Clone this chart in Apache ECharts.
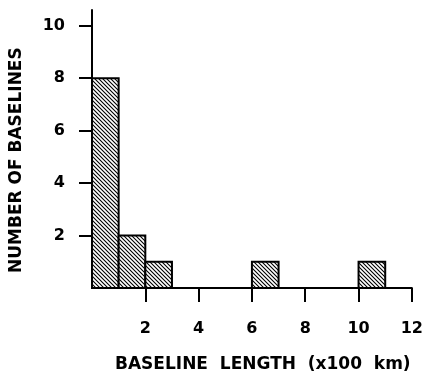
<!DOCTYPE html>
<html><head><meta charset="utf-8">
<script src="https://cdn.jsdelivr.net/npm/echarts@6/dist/echarts.min.js"></script>
<style>html,body{margin:0;padding:0;background:#fff}#c{width:426px;height:376px}</style>
</head><body><div id="c"></div>
<script>
// histogram bins: start, end (x100 km), count
const binStart = [0, 1, 2, 6, 10];
const binEnd   = [1, 2, 3, 7, 11];
const counts   = [8, 2, 1, 1, 1];
const xTicks = [2, 4, 6, 8, 10, 12];
const yTicks = [2, 4, 6, 8, 10];

function hatch() {
  const c = document.createElement('canvas');
  c.width = 4; c.height = 4;
  const g = c.getContext('2d');
  g.fillStyle = '#fff'; g.fillRect(0,0,4,4);
  g.strokeStyle = '#000'; g.lineWidth = 1.1;
  g.beginPath();
  g.moveTo(-1,-1); g.lineTo(5,5);
  g.moveTo(-1,3); g.lineTo(1,5);
  g.moveTo(3,-1); g.lineTo(5,1);
  g.stroke();
  return c;
}
const pattern = { image: hatch(), repeat: 'repeat' };

const data = binStart.map((s, i) => [s, binEnd[i], counts[i]]);
const font = '"DejaVu Sans", "Liberation Sans", sans-serif';
const chart = echarts.init(document.getElementById('c'));
chart.setOption({
  animation: false,
  grid: { left: 92, right: 11, top: 10, bottom: 88 },
  xAxis: {
    type: 'value', min: 0, max: 12,
    axisLine: { show: true, lineStyle: { color: '#000', width: 2 } },
    axisTick: { show: true, length: 14, customValues: xTicks, lineStyle: { color: '#000', width: 2 } },
    axisLabel: { customValues: xTicks, margin: 33, color: '#000', fontFamily: font, fontWeight: 'bold', fontSize: 16 },
    splitLine: { show: false }
  },
  yAxis: {
    type: 'value', min: 0, max: 10.6,
    axisLine: { show: true, lineStyle: { color: '#000', width: 2 } },
    axisTick: { show: true, length: 13, customValues: yTicks, lineStyle: { color: '#000', width: 2 } },
    axisLabel: { customValues: yTicks, margin: 27, color: '#000', fontFamily: font, fontWeight: 'bold', fontSize: 16 },
    splitLine: { show: false }
  },
  graphic: [
    { type: 'text', x: 115, y: 356, style: { text: 'BASELINE  LENGTH  (x100  km)', fill: '#000', font: 'bold 17px ' + font } },
    { type: 'text', x: 8, y: 273, rotation: Math.PI / 2, style: { text: 'NUMBER OF BASELINES', fill: '#000', font: 'bold 17px ' + font, align: 'left', verticalAlign: 'top' } }
  ],
  series: [{
    type: 'custom',
    data: data,
    renderItem: function (params, api) {
      const p0 = api.coord([api.value(0), api.value(2)]);
      const p1 = api.coord([api.value(1), 0]);
      return {
        type: 'rect',
        shape: { x: p0[0], y: p0[1], width: p1[0] - p0[0], height: p1[1] - p0[1] },
        style: { fill: pattern, stroke: '#000', lineWidth: 2 }
      };
    }
  }]
});
</script></body></html>
